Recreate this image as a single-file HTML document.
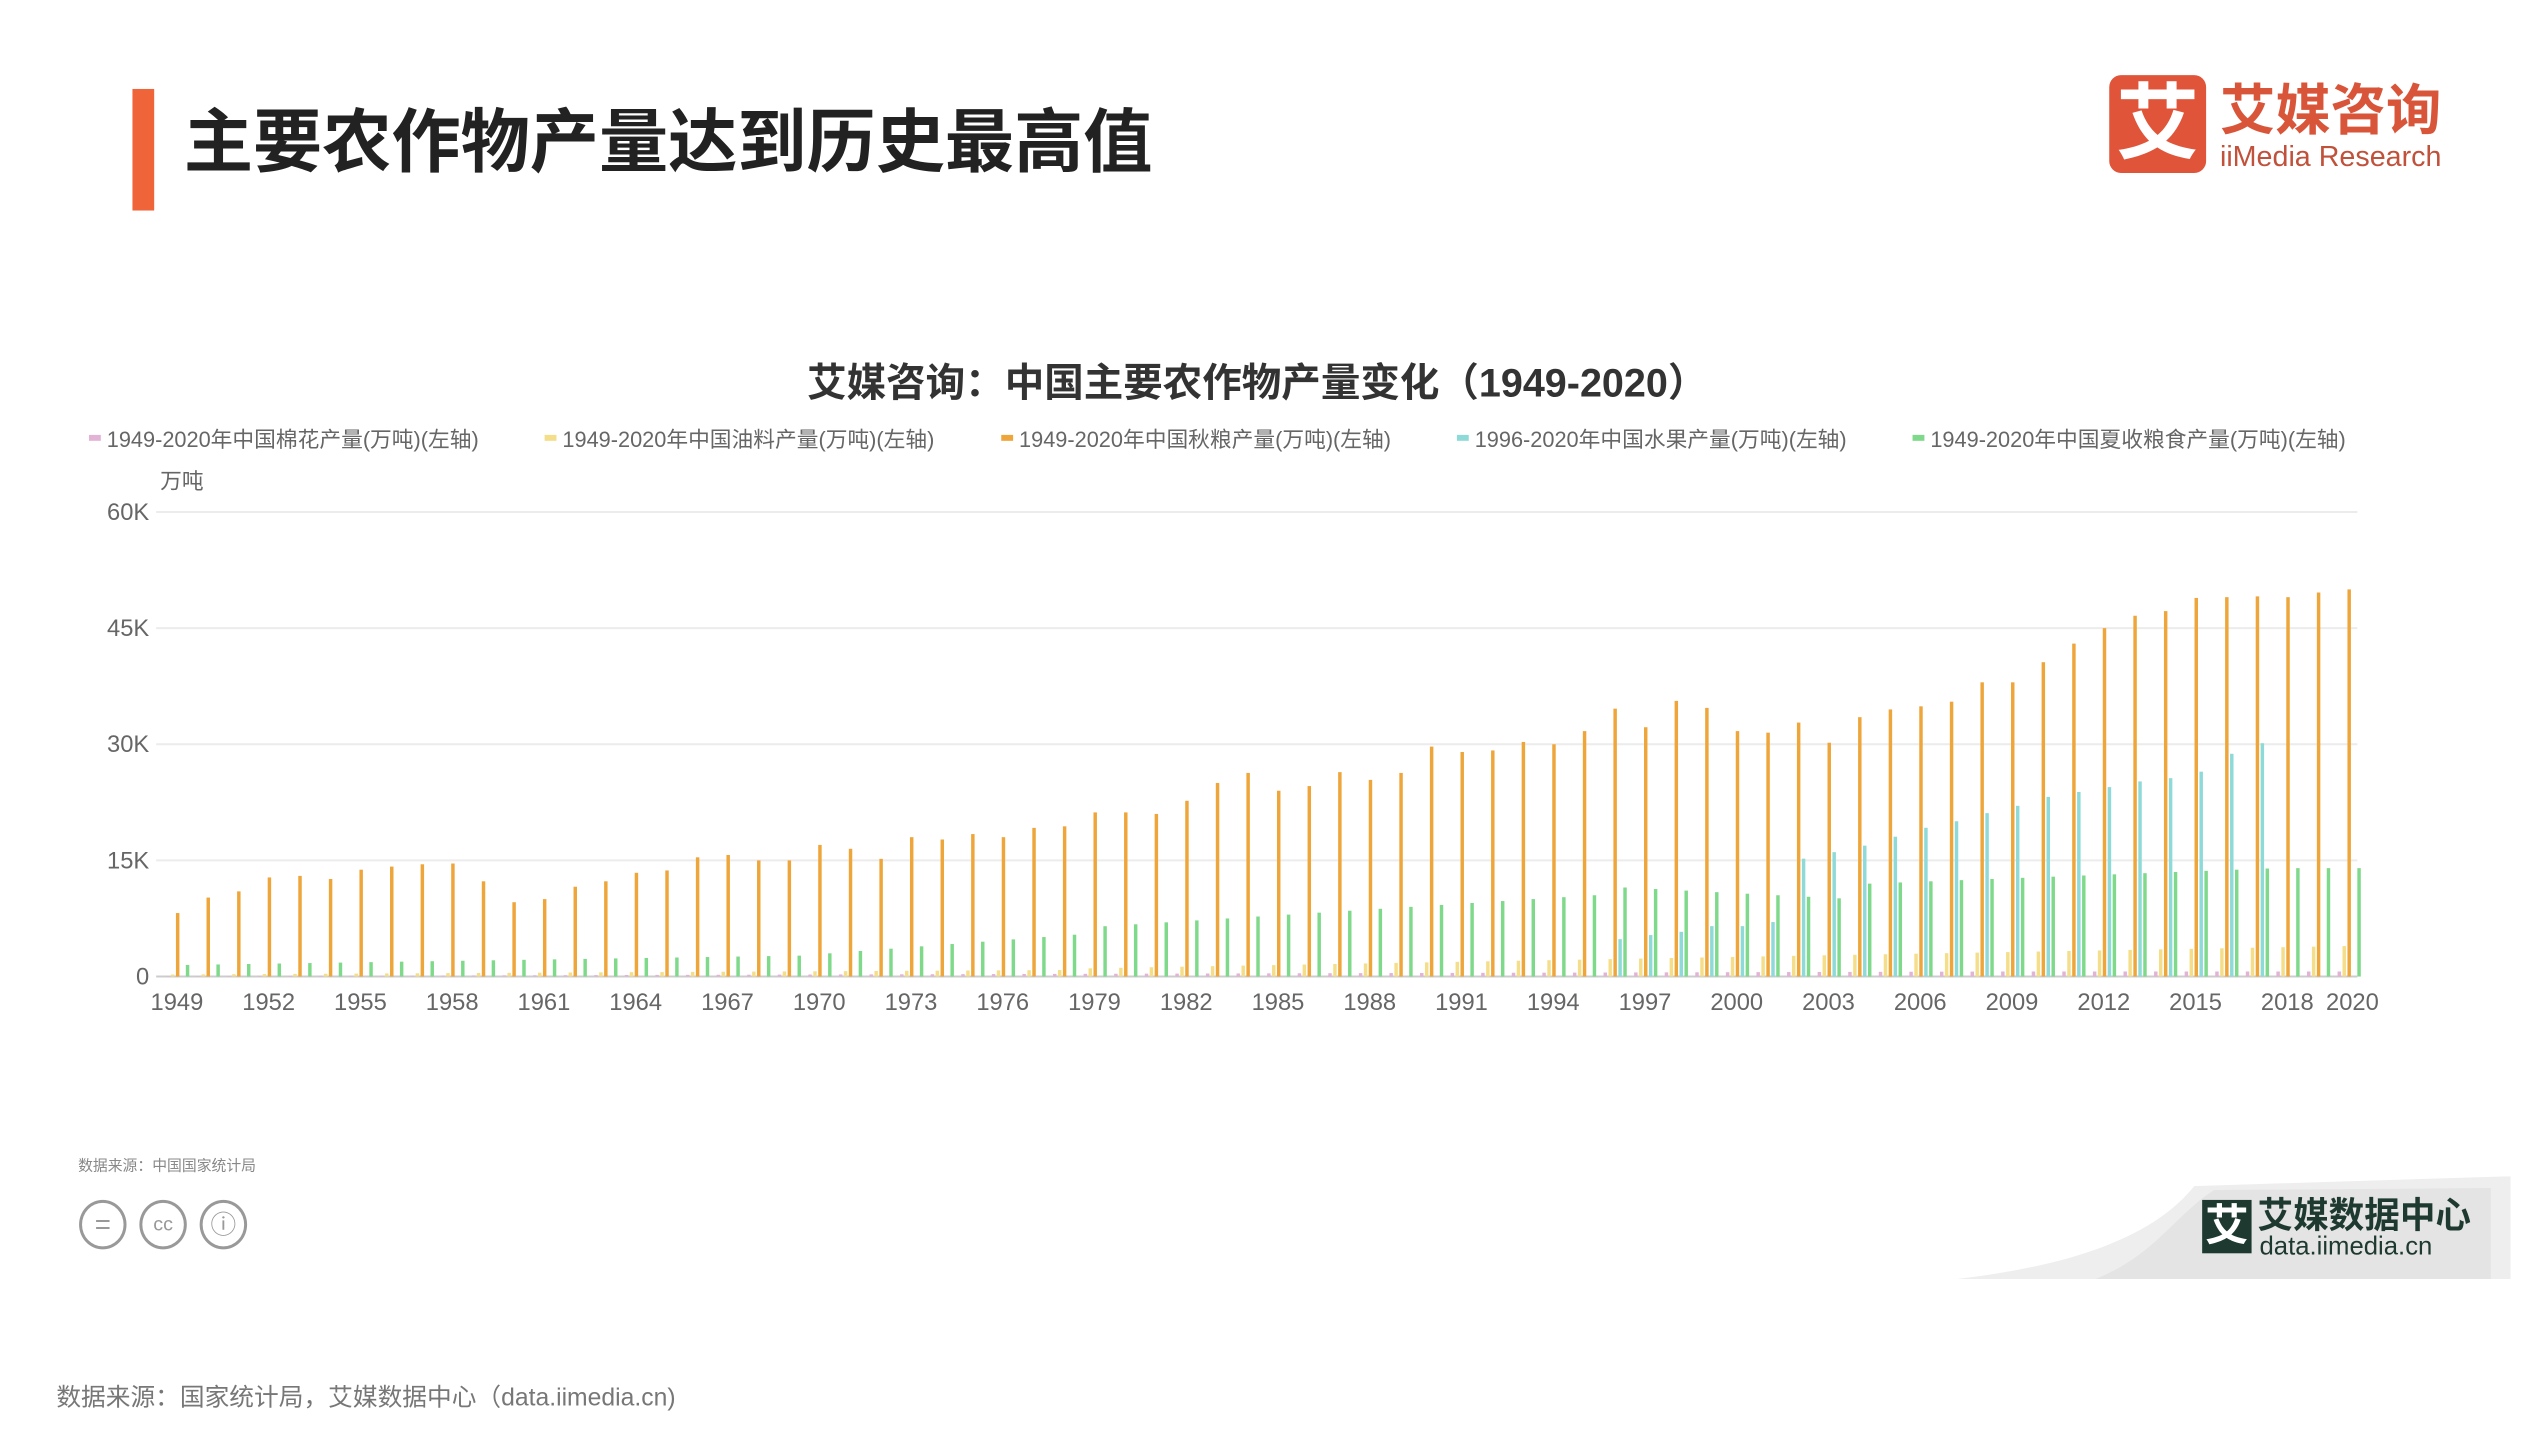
<!DOCTYPE html>
<html><head><meta charset="utf-8">
<style>
html,body{margin:0;padding:0;background:#fff;}
body{width:2540px;height:1448px;position:relative;overflow:hidden;font-family:"Liberation Sans","Noto Sans CJK SC",sans-serif;}
#wrap{position:absolute;left:0;top:0;width:2540px;height:1448px;transform:scale(0.9884);transform-origin:0 0;}
.abs{position:absolute;white-space:nowrap;}
</style></head><body><div id="wrap">
<div class="abs" style="left:134px;top:90px;width:22px;height:123px;background:#f0643a;"></div>
<div class="abs" style="left:186px;top:104px;font-size:70px;font-weight:bold;color:#222;line-height:80px;">主要农作物产量达到历史最高值</div>
<div class="abs" style="left:2134px;top:76px;width:98px;height:99px;background:#e0553a;border-radius:12px;color:#fff;font-size:84px;font-weight:bold;line-height:99px;text-align:center;">艾</div>
<div class="abs" style="left:2246px;top:82px;font-size:56px;font-weight:bold;color:#d9553a;line-height:60px;">艾媒咨询</div>
<div class="abs" style="left:2246px;top:142px;font-size:29px;color:#c0513a;line-height:34px;">iiMedia Research</div>

<svg class="abs" style="left:0;top:0" width="2540" height="1448" id="chart">
<text x="1272" y="401" text-anchor="middle" font-size="40" font-weight="bold" fill="#333" font-family="Liberation Sans,Noto Sans CJK SC,sans-serif">艾媒咨询：中国主要农作物产量变化（1949-2020）</text>
</svg>

<div class="abs" style="left:79px;top:1168px;font-size:15px;color:#888;">数据来源：中国国家统计局</div>
<div class="abs" style="left:80px;top:1214px;width:48px;height:50px;border:3px solid #999;border-radius:50%;box-sizing:border-box;text-align:center;line-height:44px;font-size:28px;color:#999;">=</div>
<div class="abs" style="left:141px;top:1214px;width:48px;height:50px;border:3px solid #999;border-radius:50%;box-sizing:border-box;text-align:center;line-height:44px;font-size:20px;color:#999;">cc</div>
<div class="abs" style="left:202px;top:1214px;width:48px;height:50px;border:3px solid #999;border-radius:50%;box-sizing:border-box;text-align:center;line-height:44px;font-size:26px;color:#999;">ⓘ</div>

<svg class="abs" style="left:1980px;top:1190px" width="560" height="110">
<path d="M0 104 C120 90 200 60 240 10 L560 0 L560 104 Z" fill="#eeeeee"/>
<path d="M140 104 C200 80 220 40 260 14 L540 12 L540 104 Z" fill="#e4e4e4"/>
</svg>
<div class="abs" style="left:2228px;top:1214px;width:50px;height:54px;background:#1e3a30;color:#fff;font-size:44px;font-weight:bold;line-height:54px;text-align:center;">艾</div>
<div class="abs" style="left:2284px;top:1210px;font-size:36px;font-weight:bold;color:#1e3a30;line-height:40px;">艾媒数据中心</div>
<div class="abs" style="left:2286px;top:1246px;font-size:26px;color:#1e3a30;line-height:28px;">data.iimedia.cn</div>

<div class="abs" style="left:57px;top:1394px;font-size:25px;color:#777;">数据来源：国家统计局，艾媒数据中心（data.iimedia.cn)</div>
</div>
<script>
const svg=document.getElementById('chart');
const NS='http://www.w3.org/2000/svg';
function el(t,a,txt){const e=document.createElementNS(NS,t);for(const k in a)e.setAttribute(k,a[k]);if(txt!==undefined)e.textContent=txt;svg.appendChild(e);return e;}
const F='Liberation Sans,Noto Sans CJK SC,sans-serif';
const leg=[["#e3b3d6","1949-2020年中国棉花产量(万吨)(左轴)",90],["#f5de8a","1949-2020年中国油料产量(万吨)(左轴)",551],["#eea53a","1949-2020年中国秋粮产量(万吨)(左轴)",1013],["#8ddad8","1996-2020年中国水果产量(万吨)(左轴)",1474],["#7fd98a","1949-2020年中国夏收粮食产量(万吨)(左轴)",1935]];
leg.forEach(l=>{el('rect',{x:l[2],y:440,width:12,height:6,fill:l[0]});el('text',{x:l[2]+18,y:452,'font-size':22,fill:'#666','font-family':F},l[1]);});
el('text',{x:162,y:494,'font-size':22,fill:'#666','font-family':F},'万吨');
const y0=988,y60=518,k=(y0-y60)/60;
['0','15K','30K','45K','60K'].forEach((t,i)=>{const y=y0-i*15*k;
 el('line',{x1:158,x2:2385,y1:y,y2:y,stroke:i==0?'#ccc':'#ececec','stroke-width':2});
 el('text',{x:151,y:y+8,'text-anchor':'end','font-size':24,fill:'#666','font-family':F},t);});
const aut=[8.2,10.2,11,12.8,13,12.6,13.8,14.2,14.5,14.6,12.3,9.6,10,11.6,12.3,13.4,13.7,15.4,15.7,15,15,17,16.5,15.2,18,17.7,18.4,18,19.2,19.4,21.2,21.2,21,22.7,25,26.3,24,24.6,26.4,25.4,26.3,29.7,29,29.2,30.3,30,31.7,34.6,32.2,35.6,34.7,31.7,31.5,32.8,30.2,33.5,34.5,34.9,35.5,38,38,40.6,43,45,46.6,47.2,48.9,49,49.1,49,49.6,50];
const fruit=[4.6,5.1,5.5,6.2,6.2,6.7,14.5,15.3,16.1,17.2,18.3,19.1,20.1,21.0,22.1,22.7,23.3,24.0,24.4,25.2,27.4,28.7];
const step=(2376-179)/71;
for(let i=0;i<72;i++){
 const x=179+i*step, yr=1949+i;
 const oil=0.26+ (i<30?i*0.02:0.8+(i-30)*0.07);
 const cot=0.05+Math.min(0.6,i*0.01);
 let sum=i<20?1.5+i*0.06:(i<30?2.7+(i-20)*0.3:(i<47?6.5+(i-30)*0.25:(i<55?11.5-(i-47)*0.2:12+Math.min(2,(i-55)*0.15))));
 const bw=3.5;
 el('rect',{x:x-11,y:y0-cot*k,width:bw,height:cot*k,fill:'#e3b3d6'});
 el('rect',{x:x-6,y:y0-oil*k,width:bw,height:oil*k,fill:'#f5de8a'});
 el('rect',{x:x-1,y:y0-aut[i]*k,width:bw,height:aut[i]*k,fill:'#eea53a'});
 if(yr>=1996){const f=fruit[yr-1996]*1.05;el('rect',{x:x+4,y:y0-f*k,width:bw,height:f*k,fill:'#8ddad8'});}
 el('rect',{x:x+9,y:y0-sum*k,width:bw,height:sum*k,fill:'#7fd98a'});
 if(i%3==0||yr==2020) el('text',{x:x+(yr==2020?4:0),y:1022,'text-anchor':'middle','font-size':24,fill:'#666','font-family':F},String(yr));
}
</script>
</body></html>
